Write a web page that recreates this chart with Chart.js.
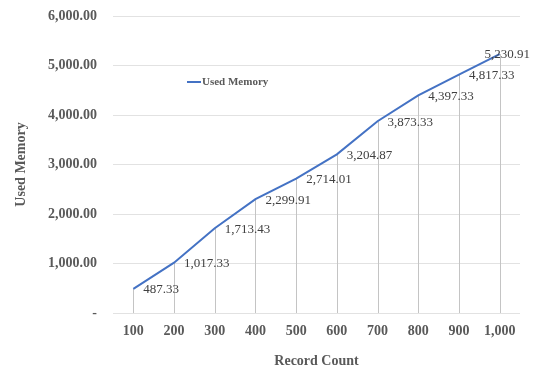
<!DOCTYPE html>
<html>
<head>
<meta charset="utf-8">
<script src="https://cdn.jsdelivr.net/npm/chart.js@4.4.0/dist/chart.umd.min.js"></script>
<style>
  html, body { margin: 0; padding: 0; background: #fff; }
  #wrap { width: 536px; height: 370px; }
</style>
</head>
<body>
<div id="wrap"><canvas id="chart-used-memory" width="536" height="370"></canvas></div>
<script>
// data
const recordCounts = ['100', '200', '300', '400', '500', '600', '700', '800', '900', '1,000'];
const usedMemory = [487.33, 1017.33, 1713.43, 2299.91, 2714.01, 3204.87, 3873.33, 4397.33, 4817.33, 5230.91];
const seriesName = 'Used Memory';

const serif = "'Liberation Serif', 'Times New Roman', serif";
const textGray = '#595959';

function fmt(v) {
  return v.toLocaleString('en-US', { minimumFractionDigits: 2, maximumFractionDigits: 2 });
}

// drop lines, data labels and the floating legend
const extras = {
  id: 'extras',
  beforeDatasetsDraw(chart) {
    const ctx = chart.ctx;
    const meta = chart.getDatasetMeta(0);
    const bottom = chart.chartArea.bottom;
    ctx.save();
    ctx.strokeStyle = '#c4c4c4';
    ctx.lineWidth = 1;
    meta.data.forEach(pt => {
      const x = Math.round(pt.x) + 0.5;
      ctx.beginPath();
      ctx.moveTo(x, pt.y);
      ctx.lineTo(x, bottom);
      ctx.stroke();
    });
    ctx.restore();
  },
  afterDraw(chart) {
    const ctx = chart.ctx;
    const meta = chart.getDatasetMeta(0);
    ctx.save();
    ctx.font = '13px ' + serif;
    ctx.fillStyle = '#404040';
    ctx.textBaseline = 'middle';
    ctx.textAlign = 'left';
    meta.data.forEach((pt, i) => {
      const txt = fmt(usedMemory[i]);
      const w = ctx.measureText(txt).width;
      let x = pt.x + 10;
      // keep the last label inside the canvas
      if (x + w > chart.width - 6) x = chart.width - 6 - w;
      ctx.fillText(txt, x, pt.y + 1);
    });

    // legend
    ctx.strokeStyle = '#4472C4';
    ctx.lineWidth = 2;
    ctx.beginPath();
    ctx.moveTo(187, 82);
    ctx.lineTo(201, 82);
    ctx.stroke();
    ctx.font = 'bold 11px ' + serif;
    ctx.fillStyle = textGray;
    ctx.fillText(seriesName, 202, 82);
    ctx.restore();
  }
};

const ctx = document.getElementById('chart-used-memory').getContext('2d');
const chartUsedMemory = new Chart(ctx, {
  type: 'line',
  data: {
    labels: recordCounts,
    datasets: [{
      label: seriesName,
      data: usedMemory,
      borderColor: '#4472C4',
      backgroundColor: '#4472C4',
      borderWidth: 2,
      pointRadius: 0,
      tension: 0
    }]
  },
  options: {
    responsive: false,
    animation: false,
    layout: {
      padding: { top: 16, right: 16, left: 0, bottom: 0 }
    },
    scales: {
      x: {
        offset: true,
        grid: { display: false, drawTicks: false },
        border: { display: false },
        ticks: {
          padding: 10,
          color: textGray,
          font: { family: serif, size: 14, weight: 'bold' },
          maxRotation: 0
        },
        title: {
          display: true,
          text: 'Record Count',
          color: textGray,
          font: { family: serif, size: 14, weight: 'bold' },
          padding: { top: 0, bottom: 0 }
        },
        afterFit(scale) { scale.height = 57; }
      },
      y: {
        min: 0,
        max: 6000,
        grid: { color: '#e2e2e2', drawTicks: false },
        border: { display: false },
        ticks: {
          stepSize: 1000,
          padding: 16,
          color: textGray,
          font: { family: serif, size: 14, weight: 'bold' },
          callback: v => v === 0 ? '-' : fmt(v)
        },
        title: {
          display: true,
          text: 'Used Memory',
          color: textGray,
          font: { family: serif, size: 14, weight: 'bold' },
          padding: { top: 13, bottom: 0 }
        },
        afterFit(scale) {
          scale.width = 113;
          scale.paddingTop = 0;
          scale.paddingBottom = 0;
        }
      }
    },
    plugins: {
      legend: { display: false },
      tooltip: { enabled: false }
    }
  },
  plugins: [extras]
});
</script>
</body>
</html>
